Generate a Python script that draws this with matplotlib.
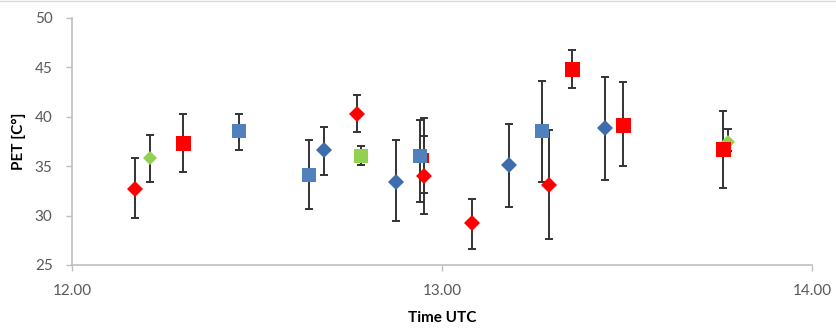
import matplotlib
matplotlib.use("Agg")
import matplotlib.pyplot as plt
from matplotlib.lines import Line2D

# PET measurements, time in decimal hours UTC, values in C
# each series: time, mean, upper end of bar, lower end of bar
blue_sq_t = [12.45, 12.64, 12.94, 13.27]
blue_sq_v = [38.5, 34.1, 36.0, 38.5]
blue_sq_hi = [40.3, 37.6, 39.7, 43.6]
blue_sq_lo = [36.6, 30.7, 31.4, 33.4]

blue_di_t = [12.68, 12.876, 13.18, 13.44]
blue_di_v = [36.6, 33.4, 35.1, 38.8]
blue_di_hi = [39.0, 37.6, 39.3, 44.0]
blue_di_lo = [34.1, 29.4, 30.9, 33.6]

red_sq_t = [12.30, 13.35, 13.49, 13.76]
red_sq_v = [37.3, 44.8, 39.2, 36.7]
red_sq_hi = [40.3, 46.7, 43.5, 40.6]
red_sq_lo = [34.4, 42.9, 35.0, 32.8]

# red point mostly hidden behind the blue square just before 13.00
red_hid_t = [12.952]
red_hid_v = [35.8]
red_hid_hi = [38.0]
red_hid_lo = [32.3]

red_di_t = [12.17, 12.77, 12.952, 13.08, 13.29]
red_di_v = [32.7, 40.3, 34.0, 29.2, 33.1]
red_di_hi = [35.8, 42.2, 39.9, 31.7, 38.6]
red_di_lo = [29.8, 38.4, 30.2, 26.6, 27.6]

green_sq_t = [12.78]
green_sq_v = [36.05]
green_sq_hi = [37.0]
green_sq_lo = [35.1]

green_di_t = [12.21, 13.774]
green_di_v = [35.8, 37.4]
green_di_hi = [38.1, 38.7]
green_di_lo = [33.4, 36.5]

xticks = [12.0, 13.0, 14.0]
xtick_labels = ["12.00", "13.00", "14.00"]
yticks = [25, 30, 35, 40, 45, 50]

plt.rcParams['font.family'] = ['Lato', 'DejaVu Sans']

fig = plt.figure(figsize=(8.37, 3.30), dpi=100)
ax = fig.add_axes([72 / 837, 1 - 265 / 330, 740 / 837, 247.3 / 330])

series = [
    (red_hid_t, red_hid_v, red_hid_hi, red_hid_lo, 's', '#FF0000', 7, 2.5),
    (blue_sq_t, blue_sq_v, blue_sq_hi, blue_sq_lo, 's', '#4F81BD', 10.5, 3),
    (blue_di_t, blue_di_v, blue_di_hi, blue_di_lo, 'D', '#3E6DAE', 8.6, 3),
    (green_sq_t, green_sq_v, green_sq_hi, green_sq_lo, 's', '#92D050', 10.5, 3),
    (green_di_t, green_di_v, green_di_hi, green_di_lo, 'D', '#92D050', 7.4, 3),
    (red_sq_t, red_sq_v, red_sq_hi, red_sq_lo, 's', '#FF0000', 10.8, 3.2),
    (red_di_t, red_di_v, red_di_hi, red_di_lo, 'D', '#FF0000', 8.4, 3.2),
]

for t, v, hi, lo, m, c, ms, z in series:
    yerr = [[a - b for a, b in zip(v, lo)], [b - a for a, b in zip(v, hi)]]
    ax.errorbar(t, v, yerr=yerr, fmt='none', ecolor='#333333', elinewidth=1.4,
                capsize=3, capthick=1.4, zorder=2)
    ax.plot(t, v, linestyle='none', marker=m, color=c, markersize=ms,
            markeredgewidth=0, zorder=z)

ax.set_xlim(12, 14)
ax.set_ylim(25, 50)
ax.set_xticks(xticks)
ax.set_xticklabels(xtick_labels)
ax.set_yticks(yticks)

for s in ['top', 'right']:
    ax.spines[s].set_visible(False)
for s in ['left', 'bottom']:
    ax.spines[s].set_color('#BFBFBF')
    ax.spines[s].set_linewidth(1.2)

ax.tick_params(axis='y', direction='out', length=4, width=1, color='#BFBFBF',
               labelsize=11, labelcolor='#595959', pad=10)
ax.tick_params(axis='x', direction='out', length=4, width=1, color='#BFBFBF',
               labelsize=11, labelcolor='#595959', pad=10)

ax.set_xlabel('Time UTC', fontsize=11, fontweight='bold', labelpad=9)
ax.set_ylabel('PET [C°]', fontsize=11, fontweight='bold', labelpad=6)

# faint line along the top edge of the picture
fig.add_artist(Line2D([0, 1], [0.998, 0.998], color='#D9D9D9', linewidth=1,
                      transform=fig.transFigure))

fig.savefig('out.png', dpi=100)
